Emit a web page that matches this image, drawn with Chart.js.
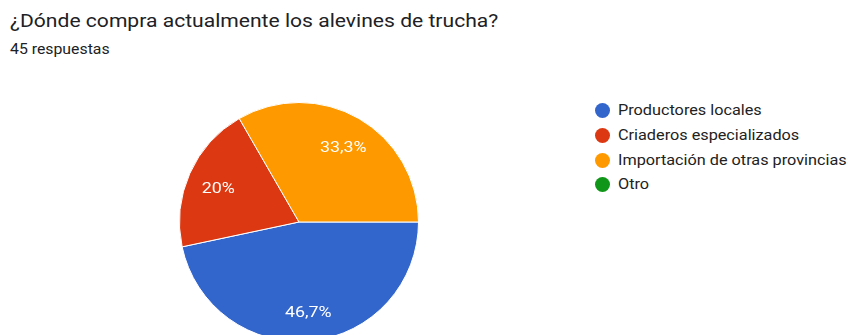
<!DOCTYPE html>
<html>
<head>
<meta charset="utf-8">
<script src="https://cdn.jsdelivr.net/npm/chart.js@4/dist/chart.umd.min.js"></script>
<style>
html,body{margin:0;padding:0;width:848px;height:335px;overflow:hidden;background:#fff;font-family:Roboto,Arial,sans-serif;}
.wide{display:inline-block;transform-origin:0 50%;white-space:nowrap;}
#title{position:absolute;left:10px;top:10px;font-size:18.5px;color:#202124;}
#title .wide{transform:scaleX(1.14);}
#sub{position:absolute;left:10px;top:41px;font-size:14px;color:#202124;}
#sub .wide{transform:scaleX(1.13);}
#pieBox{position:absolute;left:179px;top:102px;width:240px;height:240px;}
#legend{position:absolute;left:595px;top:98.5px;}
.item{height:24.7px;display:flex;align-items:center;font-size:14.5px;color:#222;}
.item .wide{transform:scaleX(1.12);}
.dot{width:15px;height:15px;border-radius:50%;margin-right:8px;flex:none;}
</style>
</head>
<body>
<div id="title"></div>
<div id="sub"></div>
<div id="pieBox"><canvas id="pie" width="240" height="240"></canvas></div>
<div id="legend"></div>
<script>
// ---------------------
// Data
// ---------------------

const title = "¿Dónde compra actualmente los alevines de trucha?";
const subtitle = "45 respuestas";

const labels = ["Productores locales", "Criaderos especializados", "Importación de otras provincias", "Otro"];
const counts = [21, 9, 15, 0];
const colors = ["#3366cc", "#dc3912", "#ff9900", "#109618"];

// ---------------------
// Texts + legend
// ---------------------

document.getElementById("title").innerHTML = `<span class="wide">${title}</span>`;
document.getElementById("sub").innerHTML = `<span class="wide">${subtitle}</span>`;

const legend = document.getElementById("legend");
labels.forEach((name, i) => {
    legend.innerHTML += `<div class="item"><span class="dot" style="background:${colors[i]}"></span><span class="wide">${name}</span></div>`;
});

// ---------------------
// Percent labels on slices
// ---------------------

const pctLabels = {
    id: "pctLabels",
    afterDatasetsDraw(chart) {
        const ctx = chart.ctx;
        const data = chart.data.datasets[0].data;
        const total = data.reduce((a, b) => a + b, 0);
        chart.getDatasetMeta(0).data.forEach((arc, i) => {
            if (!data[i]) return;
            const p = arc.getProps(["x", "y", "startAngle", "endAngle", "outerRadius"], true);
            const mid = (p.startAngle + p.endAngle) / 2;
            const r = p.outerRadius * 0.74;
            const txt = (data[i] / total * 100).toFixed(1).replace(/\.0$/, "").replace(".", ",") + "%";
            ctx.save();
            ctx.translate(p.x + Math.cos(mid) * r, p.y + Math.sin(mid) * r + 3);
            ctx.scale(1.15, 1);
            ctx.fillStyle = "#ffffff";
            ctx.font = "15.5px Roboto, Arial, sans-serif";
            ctx.textAlign = "center";
            ctx.textBaseline = "middle";
            ctx.fillText(txt, 0, 0);
            ctx.restore();
        });
    }
};

// ---------------------
// Chart
// ---------------------

new Chart(document.getElementById("pie"), {
    type: "pie",
    data: {
        labels: labels,
        datasets: [{
            data: counts,
            backgroundColor: colors,
            borderColor: "#ffffff",
            borderWidth: 1
        }]
    },
    options: {
        responsive: false,
        animation: false,
        rotation: 90,
        layout: { padding: 0 },
        plugins: {
            legend: { display: false },
            tooltip: { enabled: false }
        }
    },
    plugins: [pctLabels]
});
</script>
</body>
</html>
